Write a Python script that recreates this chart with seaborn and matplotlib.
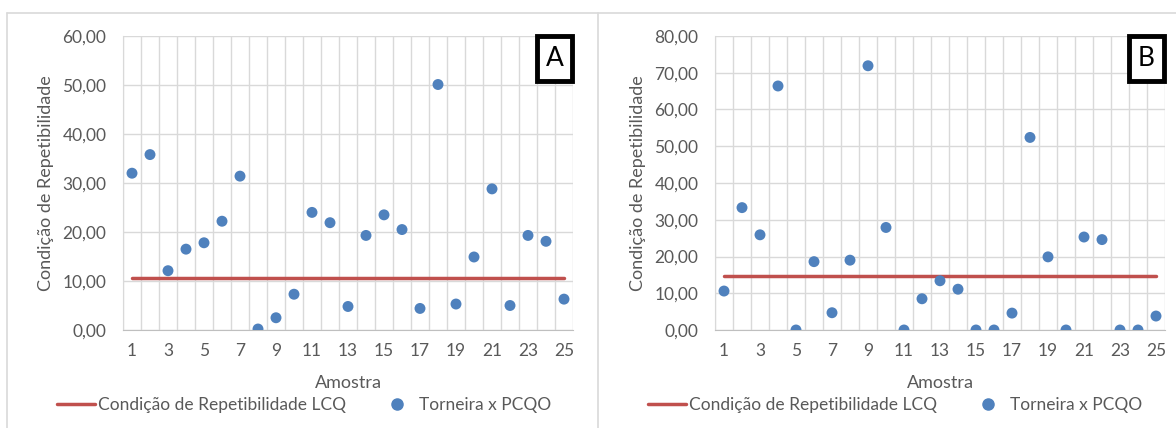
import seaborn as sns
import matplotlib.pyplot as plt
import pandas as pd
from matplotlib.lines import Line2D
from matplotlib.patches import Rectangle
from matplotlib.ticker import FuncFormatter

# Amostras 1..25
amostras = list(range(1, 26))

# Painel A
torneira_a = [32.0, 35.8, 12.1, 16.5, 17.8, 22.2, 31.4, 0.2, 2.5, 7.3,
              24.0, 21.9, 4.8, 19.3, 23.5, 20.5, 4.4, 50.1, 5.3, 14.9,
              28.8, 5.0, 19.3, 18.1, 6.3]
lcq_a = 10.7

# Painel B
torneira_b = [10.6, 33.3, 25.9, 66.4, 0.0, 18.6, 4.7, 19.0, 71.9, 27.9,
              0.0, 8.5, 13.4, 11.1, 0.0, 0.0, 4.6, 52.4, 19.9, 0.0,
              25.3, 24.6, 0.0, 0.0, 3.8]
lcq_b = 14.6

sns.set_style("white")
plt.rcParams['font.family'] = ['Lato', 'DejaVu Sans']

W, H = 1176, 428
fig = plt.figure(figsize=(W / 100, H / 100), dpi=100)

red = "#C0504D"
blue = "#4F81BD"
txt = "#595959"
grid = "#d9d9d9"


def draw(left_px, vals, lcq, ymax, letter, ylab_x, legend_cx):
    ax = fig.add_axes([left_px / W, (H - 330) / H, 450 / W, 294 / H])
    df = pd.DataFrame({'Amostra': amostras, 'valor': vals, 'lcq': [lcq] * 25})
    sns.lineplot(data=df, x='Amostra', y='lcq', color=red, linewidth=2.5, ax=ax)
    sns.scatterplot(data=df, x='Amostra', y='valor', color=blue, s=62,
                    edgecolor='none', ax=ax, zorder=3)
    ax.set_xlim(0.5, 25.5)
    ax.set_ylim(0, ymax)
    ax.set_yticks(range(0, ymax + 1, 10))
    ax.yaxis.set_major_formatter(FuncFormatter(lambda v, p: f"{v:.2f}".replace('.', ',')))
    ax.set_xticks(range(1, 26, 2))
    ax.set_xticks([i + 0.5 for i in range(0, 26)], minor=True)
    ax.grid(True, which='major', axis='y', color=grid, linewidth=1)
    ax.grid(True, which='minor', axis='x', color=grid, linewidth=1)
    ax.grid(False, which='major', axis='x')
    ax.tick_params(axis='both', which='both', length=0, labelsize=12.5,
                   labelcolor=txt)
    ax.tick_params(axis='y', pad=12)
    ax.tick_params(axis='x', pad=9)
    for s in ['top', 'right']:
        ax.spines[s].set_visible(False)
    ax.spines['left'].set_color(grid)
    ax.spines['bottom'].set_color("#bfbfbf")
    ax.set_xlabel('Amostra', fontsize=13, color=txt, labelpad=12)
    ax.set_ylabel('')
    fig.text(ylab_x / W, 1 - 183 / H, 'Condição de Repetibilidade', rotation=90,
             ha='center', va='center', fontsize=13, color=txt)
    ax.add_patch(Rectangle((0.92, 0.847), 0.078, 0.153, transform=ax.transAxes,
                           facecolor='white', edgecolor='black', linewidth=3.5,
                           zorder=5, clip_on=False))
    ax.text(0.959, 0.923, letter, transform=ax.transAxes, ha='center', va='center',
            fontsize=19, color='black', zorder=6)
    handles = [Line2D([], [], color=red, linewidth=2.5),
               Line2D([], [], color=blue, marker='o', linestyle='none', markersize=8)]
    fig.legend(handles, ['Condição de Repetibilidade LCQ', 'Torneira x PCQO'],
               loc='center', bbox_to_anchor=(legend_cx / W, 1 - 405 / H), ncol=2,
               frameon=False, fontsize=12.5, labelcolor=txt, handlelength=2.2,
               handletextpad=0.2, columnspacing=1.8)
    return ax


draw(123, torneira_a, lcq_a, 60, 'A', 46, 304)
draw(715, torneira_b, lcq_b, 80, 'B', 638, 895)

# bordas dos painéis
for xs, ys in [([7, W], [13, 13]), ([7, 7], [13, H]), ([598, 598], [13, H])]:
    fig.add_artist(Line2D([x / W for x in xs], [1 - y / H for y in ys],
                          color=grid, linewidth=1.2))

plt.savefig('out.png', dpi=100)
